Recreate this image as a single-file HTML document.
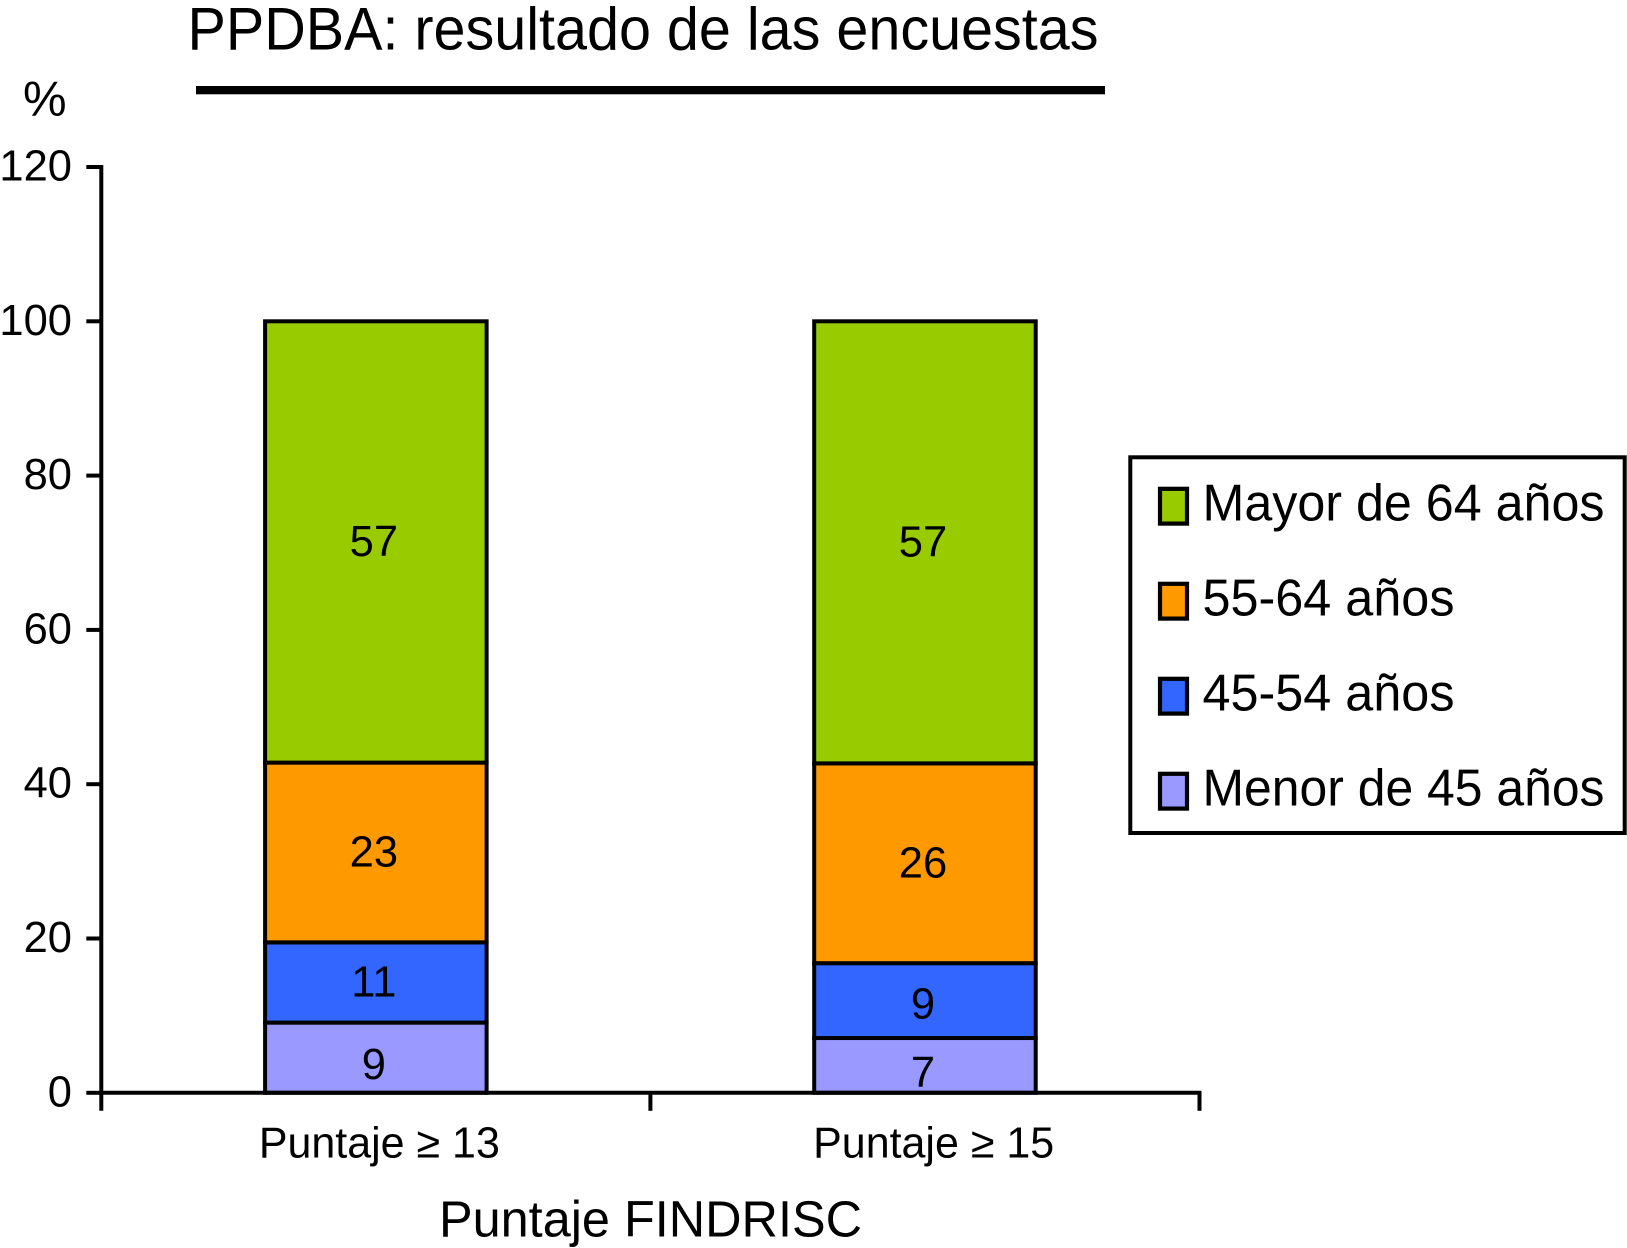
<!DOCTYPE html>
<html lang="es">
<head>
<meta charset="utf-8">
<title>PPDBA: resultado de las encuestas</title>
<style>
html,body{margin:0;padding:0;background:#fff;width:1627px;height:1248px;overflow:hidden}
svg{display:block}
text{font-family:"Liberation Sans",Arial,sans-serif;fill:#000}
</style>
</head>
<body>
<svg id="chart" width="1627" height="1248" viewBox="0 0 1627 1248" xmlns="http://www.w3.org/2000/svg">
  <text x="187.5" y="49.5" font-size="60" textLength="911" lengthAdjust="spacingAndGlyphs">PPDBA: resultado de las encuestas</text>
  <rect x="196" y="86" width="909" height="8.3" fill="#000"/>
  <text x="23" y="115.5" font-size="49">%</text>
  <text x="439" y="1236.5" font-size="51" textLength="423" lengthAdjust="spacingAndGlyphs">Puntaje FINDRISC</text>
</svg>
<script>
const categories = ['Puntaje \u2265 13', 'Puntaje \u2265 15'];
const seriesNames = ['Menor de 45 años', '45-54 años', '55-64 años', 'Mayor de 64 años'];
const menor45 = [9.1, 7.1];
const de45a54 = [10.4, 9.7];
const de55a64 = [23.3, 25.9];
const mayor64 = [57.2, 57.3];
const menor45Labels = ['9', '7'];
const de45a54Labels = ['11', '9'];
const de55a64Labels = ['23', '26'];
const mayor64Labels = ['57', '57'];
const yTickLabels = [0, 20, 40, 60, 80, 100, 120];

const SVGNS = 'http://www.w3.org/2000/svg';
const svg = document.getElementById('chart');
const seriesValues = [menor45, de45a54, de55a64, mayor64];
const seriesLabels = [menor45Labels, de45a54Labels, de55a64Labels, mayor64Labels];
const seriesColors = ['#9999ff', '#3366ff', '#ff9900', '#99cc00'];

const plot = {left: 101.3, right: 1199.5, top: 167, bottom: 1092.8, yMax: 120};
const yScale = v => plot.bottom - (v / plot.yMax) * (plot.bottom - plot.top);
const bandWidth = (plot.right - plot.left) / categories.length;
const xBand = i => plot.left + i * bandWidth;
const barWidth = 221.5;
const LINE = 4;
const TICK_FONT = 43.5;

function mk(tag, attrs, text) {
  const el = document.createElementNS(SVGNS, tag);
  for (const k in attrs) el.setAttribute(k, attrs[k]);
  if (text !== undefined) el.textContent = text;
  svg.appendChild(el);
  return el;
}

// bars
categories.forEach((cat, c) => {
  const bx = xBand(c) + (bandWidth - barWidth) / 2;
  let cum = 0;
  seriesValues.forEach((vals, s) => {
    const y0 = yScale(cum);
    const y1 = yScale(cum + vals[c]);
    const seg = mk('rect', {x: bx, y: y1, width: barWidth, height: y0 - y1, fill: seriesColors[s], stroke: '#000', 'stroke-width': LINE});
    
    
    cum += vals[c];
  });
});

// bar value labels
categories.forEach((cat, c) => {
  const bx = xBand(c) + (bandWidth - barWidth) / 2;
  let cum = 0;
  seriesValues.forEach((vals, s) => {
    const nudge = Math.min(7.5, Math.max(0, (10.4 - vals[c]) * 5.7));
    const cy = (yScale(cum) + yScale(cum + vals[c])) / 2 + nudge;
    const lab = mk('text', {x: bx + barWidth / 2 - 2, y: cy + 14, 'font-size': TICK_FONT, 'text-anchor': 'middle'}, seriesLabels[s][c]);
    
    
    cum += vals[c];
  });
});

// y axis
const yLine = mk('line', {x1: plot.left, x2: plot.left, y1: plot.top - 2, y2: plot.bottom + 18, stroke: '#000', 'stroke-width': LINE});


yTickLabels.forEach(t => {
  const y = yScale(t);
  const tick = mk('line', {x1: plot.left - 15, x2: plot.left, y1: y, y2: y, stroke: '#000', 'stroke-width': LINE});
  
  
  const lab = mk('text', {x: 72, y: y + 13.5, 'font-size': TICK_FONT, 'text-anchor': 'end'}, String(t));
  
  
});

// x axis
const xLine = mk('line', {x1: plot.left, x2: plot.right + 2, y1: plot.bottom, y2: plot.bottom, stroke: '#000', 'stroke-width': LINE});


categories.forEach((cat, c) => {
  const tx = xBand(c + 1);
  const tick = mk('line', {x1: tx, x2: tx, y1: plot.bottom, y2: plot.bottom + 18, stroke: '#000', 'stroke-width': LINE});
  
  
  const lab = mk('text', {x: xBand(c) + bandWidth / 2 + 3.5 + 5.2 * c, y: 1157.7, 'font-size': TICK_FONT, 'text-anchor': 'middle', textLength: 241, lengthAdjust: 'spacingAndGlyphs'}, cat);
  
  
});

// legend
const legendBox = mk('rect', {x: 1130.3, y: 457.3, width: 494.4, height: 375.7, fill: '#fff', stroke: '#000', 'stroke-width': LINE});


const legendOrder = [3, 2, 1, 0];
const legendTextWidth = [402, 252, 252, 402];
legendOrder.forEach((s, i) => {
  const sw = mk('rect', {x: 1160, y: 488.8 + i * 95, width: 27, height: 34.8, fill: seriesColors[s], stroke: '#000', 'stroke-width': 4.2});
  
  
  const t = mk('text', {x: 1202.5, y: 520.7 + i * 95, 'font-size': 51.5, textLength: legendTextWidth[i], lengthAdjust: 'spacingAndGlyphs'}, seriesNames[s]);
  
  
});
</script>
</body>
</html>
